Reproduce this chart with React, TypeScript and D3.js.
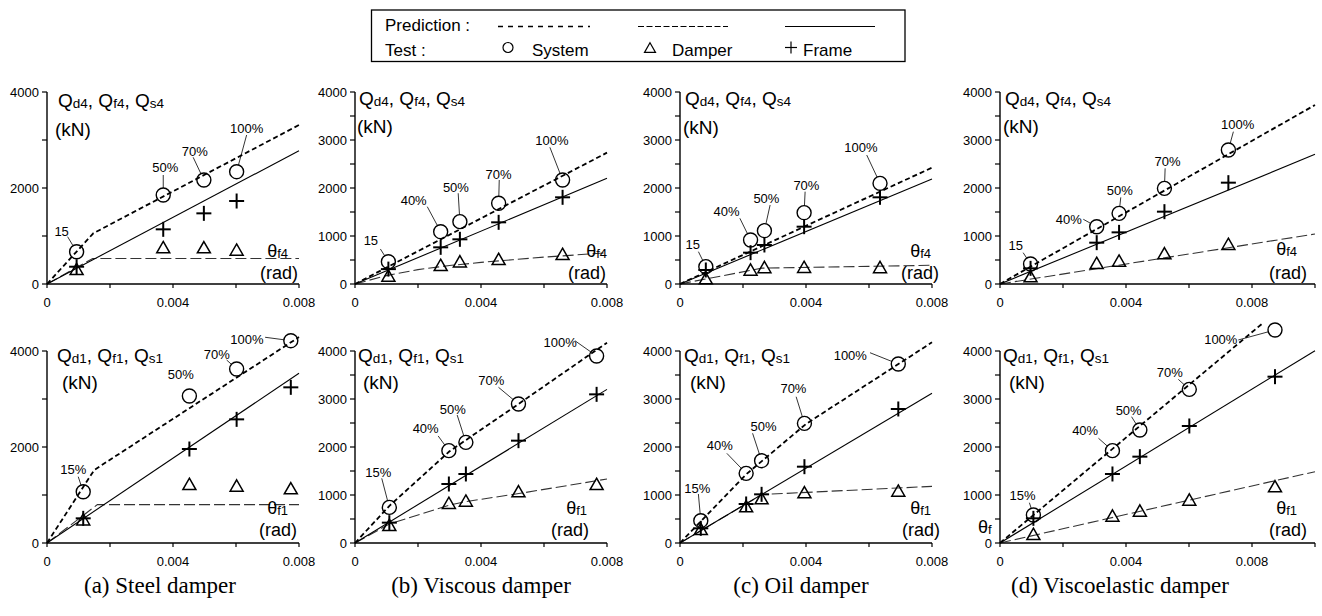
import React from "react";
import * as d3 from "d3";

// ---------------- data ----------------
// Tick values / labels
const xTicks8 = [0, 0.002, 0.004, 0.006, 0.008];
const xTicks10 = [0, 0.002, 0.004, 0.006, 0.008, 0.01];
const xLabelValues = [0, 0.004, 0.008];
const xLabelTexts = ["0", "0.004", "0.008"];
const yTicksCoarse = [0, 1000, 2000, 3000, 4000];
const yLabelsCoarse = [0, 2000, 4000];
const yTicksFine = [0, 500, 1000, 1500, 2000, 2500, 3000, 3500, 4000];
const yLabelsFine = [0, 1000, 2000, 3000, 4000];

// Level labels
const levelsTopA = ["15", "50%", "70%", "100%"];
const levelsTop = ["15", "40%", "50%", "70%", "100%"];
const levelsBotA = ["15%", "50%", "70%", "100%"];
const levelsBot = ["15%", "40%", "50%", "70%", "100%"];

// (a) Steel damper, 4th story
const a4Theta = [0.00094, 0.00369, 0.00498, 0.00602];
const a4System = [673, 1854, 2167, 2340];
const a4Damper = [290, 745, 744, 694];
const a4Frame = [360, 1139, 1472, 1729];
const a4PredSystem: [number, number][] = [[0, 0], [0.00147, 1056], [0.008, 3312]];
const a4PredDamper: [number, number][] = [[0, 0], [0.00145, 530], [0.008, 530]];
const a4PredFrame: [number, number][] = [[0, 0], [0.008, 2777]];

// (b) Viscous damper, 4th story
const b4Theta = [0.00106, 0.00272, 0.00333, 0.00456, 0.00659];
const b4System = [465, 1090, 1299, 1681, 2167];
const b4Damper = [153, 375, 451, 500, 604];
const b4Frame = [310, 764, 931, 1285, 1806];
const b4PredSystem: [number, number][] = [[0, 0], [0.008, 2736]];
const b4PredDamper: [number, number][] = [[0, 0], [0.001, 175], [0.002, 300], [0.003, 385], [0.004, 450], [0.005, 505], [0.006, 560], [0.007, 605], [0.008, 650]];
const b4PredFrame: [number, number][] = [[0, 0], [0.008, 2201]];

// (c) Oil damper, 4th story
const c4Theta = [0.00082, 0.00224, 0.00268, 0.00394, 0.00635];
const c4System = [361, 917, 1111, 1486, 2097];
const c4Damper = [97, 278, 330, 335, 330];
const c4Frame = [292, 653, 813, 1194, 1806];
const c4PredSystem: [number, number][] = [[0, 0], [0.008, 2424]];
const c4PredDamper: [number, number][] = [[0, 0], [0.0026, 330], [0.008, 390]];
const c4PredFrame: [number, number][] = [[0, 0], [0.008, 2188]];

// (d) Viscoelastic damper, 4th story
const d4Theta = [0.00097, 0.00307, 0.00378, 0.00522, 0.00725];
const d4System = [417, 1194, 1472, 1993, 2792];
const d4Damper = [139, 417, 465, 618, 813];
const d4Frame = [326, 861, 1076, 1507, 2111];
const d4PredSystem: [number, number][] = [[0, 0], [0.01, 3729]];
const d4PredDamper: [number, number][] = [[0, 0], [0.01, 1042]];
const d4PredFrame: [number, number][] = [[0, 0], [0.01, 2701]];

// (a) Steel damper, 1st story
const a1Theta = [0.00115, 0.00452, 0.00602, 0.00774];
const a1System = [1069, 3063, 3625, 4215];
const a1Damper = [470, 1208, 1174, 1118];
const a1Frame = [514, 1958, 2576, 3243];
const a1PredSystem: [number, number][] = [[0, 0], [0.0015, 1521], [0.008, 4290]];
const a1PredDamper: [number, number][] = [[0, 0], [0.0016, 800], [0.008, 800]];
const a1PredFrame: [number, number][] = [[0, 0], [0.008, 3535]];

// (b) Viscous damper, 1st story
const b1Theta = [0.00109, 0.00298, 0.00352, 0.00519, 0.00767];
const b1System = [743, 1924, 2097, 2896, 3896];
const b1Damper = [354, 813, 861, 1056, 1208];
const b1Frame = [424, 1229, 1438, 2132, 3097];
const b1PredSystem: [number, number][] = [[0, 0], [0.0011, 780], [0.003, 1910], [0.0052, 2900], [0.008, 4174]];
const b1PredDamper: [number, number][] = [[0, 0], [0.0011, 400], [0.003, 790], [0.0035, 860], [0.0052, 1030], [0.008, 1333]];
const b1PredFrame: [number, number][] = [[0, 0], [0.008, 3201]];

// (c) Oil damper, 1st story
const c1Theta = [0.00066, 0.0021, 0.00259, 0.00395, 0.00693];
const c1System = [465, 1451, 1715, 2493, 3729];
const c1Damper = [271, 743, 910, 1035, 1069];
const c1Frame = [306, 813, 1014, 1590, 2792];
const c1PredSystem: [number, number][] = [[0, 0], [0.0021, 1430], [0.004, 2480], [0.008, 4181]];
const c1PredDamper: [number, number][] = [[0, 0], [0.0026, 1010], [0.008, 1180]];
const c1PredFrame: [number, number][] = [[0, 0], [0.008, 3118]];

// (d) Viscoelastic damper, 1st story
const d1Theta = [0.00106, 0.00357, 0.00444, 0.00601, 0.00873];
const d1System = [583, 1924, 2354, 3201, 4438];
const d1Damper = [167, 549, 653, 882, 1160];
const d1Frame = [514, 1438, 1799, 2438, 3465];
const d1PredSystem: [number, number][] = [[0, 0], [0.00836, 4590]];
const d1PredDamper: [number, number][] = [[0, 0], [0.01, 1486]];
const d1PredFrame: [number, number][] = [[0, 0], [0.01, 4006]];

const captions = ["(a) Steel damper", "(b) Viscous damper", "(c) Oil damper", "(d) Viscoelastic damper"];

// ---------------- layout ----------------
const SANS = "'Liberation Sans', Arial, Helvetica, sans-serif";
const SERIF = "'Liberation Serif', 'Times New Roman', serif";
const colX0 = [47, 355, 680, 1000];
const colW = [252, 252, 252, 315];
const colMax = [0.008, 0.008, 0.008, 0.01];
const rowTop = [92, 351];
const rowBottom = [284, 543];
const captionX = [160, 481, 801, 1120];

type Ann = [number, number, number | null, number | null];

interface PanelCfg {
  col: number;
  row: number;
  story: string;
  theta: number[];
  system: number[];
  damper: number[];
  frame: number[];
  predSystem: [number, number][];
  predDamper: [number, number][];
  predFrame: [number, number][];
  levels: string[];
  ann: Ann[];
  q: [number, number, number, number];
  th: [number, number, number, number];
  coarse: boolean;
}

const panels: PanelCfg[] = [
  { col: 0, row: 0, story: "4", theta: a4Theta, system: a4System, damper: a4Damper, frame: a4Frame, predSystem: a4PredSystem, predDamper: a4PredDamper, predFrame: a4PredFrame, levels: levelsTopA,
    ann: [[-15, -20, -9, -15], [2, -28, 0, -20], [-9, -29, -10.7, -22.7], [10, -43, 10, -36.7]], q: [11, 15, 8, 44], th: [-11, -27, -1, -5], coarse: true },
  { col: 1, row: 0, story: "4", theta: b4Theta, system: b4System, damper: b4Damper, frame: b4Frame, predSystem: b4PredSystem, predDamper: b4PredDamper, predFrame: b4PredFrame, levels: levelsTop,
    ann: [[-17.5, -21, -8, -12.7], [-27, -31, -13.4, -25], [-4, -33.7, -1.7, -28.4], [0, -29.3, 0.6, -23.3], [-10.7, -40, -12.7, -32.7]], q: [4, 13, 2, 41], th: [0, -27, -1, -5], coarse: false },
  { col: 2, row: 0, story: "4", theta: c4Theta, system: c4System, damper: c4Damper, frame: c4Frame, predSystem: c4PredSystem, predDamper: c4PredDamper, predFrame: c4PredFrame, levels: levelsTop,
    ann: [[-13, -22.5, -7.4, -15], [-24, -28.3, -10.7, -21.7], [2, -31.9, 5.7, -25.7], [2.3, -26.9, 1, -21], [-19.2, -35.8, -13.3, -28.3]], q: [5, 13, 3, 42], th: [-1, -27, 7, -5], coarse: false },
  { col: 3, row: 0, story: "4", theta: d4Theta, system: d4System, damper: d4Damper, frame: d4Frame, predSystem: d4PredSystem, predDamper: d4PredDamper, predFrame: d4PredFrame, levels: levelsTop,
    ann: [[-14.7, -18.2, -7.4, -11.3], [-27.9, -7.2, -13.4, -7.4], [0.7, -23, 1.7, -16], [3.2, -27.1, 0.7, -20], [9.2, -25.8, 5, -18.3]], q: [5, 13, 3, 41], th: [-18, -29, -8, -5], coarse: false },
  { col: 0, row: 1, story: "1", theta: a1Theta, system: a1System, damper: a1Damper, frame: a1Frame, predSystem: a1PredSystem, predDamper: a1PredDamper, predFrame: a1PredFrame, levels: levelsBotA,
    ann: [[-10, -22.7, -5, -15], [-8.6, -21.8, null, null], [-19.9, -14.8, -10, -9], [-43.9, -1.5, -25.7, -3.4]], q: [10, 11, 15, 38], th: [-11, -29, -2, -7], coarse: true },
  { col: 1, row: 1, story: "1", theta: b1Theta, system: b1System, damper: b1Damper, frame: b1Frame, predSystem: b1PredSystem, predDamper: b1PredDamper, predFrame: b1PredFrame, levels: levelsBot,
    ann: [[-11, -34.8, -7.6, -29], [-23.2, -22, -10.7, -14.7], [-13, -33.1, -8.7, -27.3], [-27.1, -23.5, -20, -16.7], [-36.4, -13.8, -21.7, -15.3]], q: [3, 11, 8, 38], th: [-20, -29, -18, -7], coarse: false },
  { col: 2, row: 1, story: "1", theta: c1Theta, system: c1System, damper: c1Damper, frame: c1Frame, predSystem: c1PredSystem, predDamper: c1PredDamper, predFrame: c1PredFrame, levels: levelsBot,
    ann: [[-3.5, -32.4, -2.4, -26.7], [-26.3, -27.5, -19.3, -20], [2, -34, -9, -27.4], [-11, -34.5, -8.3, -26.6], [-48, -8.5, -28.3, -11.3]], q: [4, 11, 10, 38], th: [-1, -29, 8, -7], coarse: false },
  { col: 3, row: 1, story: "1", theta: d1Theta, system: d1System, damper: d1Damper, frame: d1Frame, predSystem: d1PredSystem, predDamper: d1PredDamper, predFrame: d1PredFrame, levels: levelsBot,
    ann: [[-10.8, -19.5, -4, -12.3], [-27.3, -20.4, -14, -12.4], [-11.2, -20, -8.3, -13.3], [-19.6, -17.1, -11, -10], [-54.2, 9.7, -36.7, 10]], q: [3, 11, 9, 38], th: [-18, -29, -8, -7], coarse: false },
];

const R = 7;

function Triangle({ x, y, s = 13, sw = 1.5 }: { x: number; y: number; s?: number; sw?: number }) {
  const h = s * 0.87;
  const p = `M${x},${y - h * 0.6}L${x + s / 2},${y + h * 0.4}L${x - s / 2},${y + h * 0.4}Z`;
  return <path d={p} fill="none" stroke="#000" strokeWidth={sw} />;
}

function Plus({ x, y, a = 7.5, sw = 2 }: { x: number; y: number; a?: number; sw?: number }) {
  return (
    <g stroke="#000" strokeWidth={sw}>
      <line x1={x - a} y1={y} x2={x + a} y2={y} />
      <line x1={x} y1={y - a} x2={x} y2={y + a} />
    </g>
  );
}

function Panel({ cfg }: { cfg: PanelCfg }) {
  const x0 = colX0[cfg.col];
  const x1 = x0 + colW[cfg.col];
  const yT = rowTop[cfg.row];
  const yB = rowBottom[cfg.row];
  const xs = d3.scaleLinear().domain([0, colMax[cfg.col]]).range([x0, x1]);
  const ys = d3.scaleLinear().domain([0, 4000]).range([yB, yT]);
  const line = d3.line<[number, number]>().x((d) => xs(d[0])).y((d) => ys(d[1]));
  const xt = cfg.col === 3 ? xTicks10 : xTicks8;
  const yt = cfg.coarse ? yTicksCoarse : yTicksFine;
  const yl = cfg.coarse ? yLabelsCoarse : yLabelsFine;
  const sub = cfg.story;
  return (
    <g>
      {/* prediction lines */}
      <path d={line(cfg.predDamper) || ""} fill="none" stroke="#333" strokeWidth={1.1} strokeDasharray="11,4" />
      <path d={line(cfg.predFrame) || ""} fill="none" stroke="#000" strokeWidth={1.1} />
      <path d={line(cfg.predSystem) || ""} fill="none" stroke="#000" strokeWidth={1.8} strokeDasharray="5,3" />
      {/* axes */}
      <line x1={x0} y1={yB} x2={x1} y2={yB} stroke="#000" strokeWidth={1.4} />
      <line x1={x0} y1={yB} x2={x0} y2={yT} stroke="#000" strokeWidth={1.4} />
      {xt.map((t) => (
        <line key={"xt" + t} x1={xs(t)} x2={xs(t)} y1={yB} y2={yB + 4} stroke="#000" strokeWidth={1.2} />
      ))}
      {yt.map((t) => (
        <line key={"yt" + t} x1={x0 - 5} x2={x0} y1={ys(t)} y2={ys(t)} stroke="#000" strokeWidth={1.2} />
      ))}
      {xLabelValues.map((t, i) => (
        <text key={"xl" + t} x={xs(t)} y={yB + 23} textAnchor="middle" fontSize={13} fontFamily={SANS}>
          {xLabelTexts[i]}
        </text>
      ))}
      {yl.map((t) => (
        <text key={"yl" + t} x={x0 - 8} y={ys(t)} dy="0.35em" textAnchor="end" fontSize={13} fontFamily={SANS}>
          {String(t)}
        </text>
      ))}
      {/* axis labels */}
      <text x={x0 + cfg.q[0]} y={yT + cfg.q[1]} fontSize={19} fontFamily={SANS}>
        Q<tspan fontSize={13.5} dy={1}>{"d" + sub}</tspan>
        <tspan dy={-1}>, Q</tspan>
        <tspan fontSize={13.5} dy={1}>{"f" + sub}</tspan>
        <tspan dy={-1}>, Q</tspan>
        <tspan fontSize={13.5} dy={1}>{"s" + sub}</tspan>
      </text>
      <text x={x0 + cfg.q[2]} y={yT + cfg.q[3]} fontSize={19} fontFamily={SANS}>
        (kN)
      </text>
      <text x={x1 + cfg.th[0]} y={yB + cfg.th[1]} fontSize={18} fontFamily={SANS} textAnchor="end">
        θ<tspan fontSize={13} dy={1}>{"f" + sub}</tspan>
      </text>
      <text x={x1 + cfg.th[2]} y={yB + cfg.th[3]} fontSize={18} fontFamily={SANS} textAnchor="end">
        (rad)
      </text>
      {/* test markers */}
      {cfg.theta.map((t, i) => (
        <Triangle key={"tr" + i} x={xs(t)} y={ys(cfg.damper[i])} />
      ))}
      {cfg.theta.map((t, i) => (
        <Plus key={"pl" + i} x={xs(t)} y={ys(cfg.frame[i])} />
      ))}
      {cfg.theta.map((t, i) => (
        <circle key={"ci" + i} cx={xs(t)} cy={ys(cfg.system[i])} r={R} fill="none" stroke="#000" strokeWidth={1.4} />
      ))}
      {/* level annotations */}
      {cfg.theta.map((t, i) => {
        const cx = xs(t);
        const cy = ys(cfg.system[i]);
        const a = cfg.ann[i];
        let leader = null;
        if (a[2] !== null && a[3] !== null) {
          const sx = cx + a[2];
          const sy = cy + a[3];
          const dx = cx - sx;
          const dy = cy - sy;
          const dist = Math.sqrt(dx * dx + dy * dy);
          if (dist > R + 1) {
            const ex = cx - (dx / dist) * R;
            const ey = cy - (dy / dist) * R;
            leader = <line x1={sx} y1={sy} x2={ex} y2={ey} stroke="#000" strokeWidth={0.8} />;
          }
        }
        return (
          <g key={"an" + i}>
            {leader}
            <text x={cx + a[0]} y={cy + a[1]} dy="0.35em" textAnchor="middle" fontSize={13} fontFamily={SANS}>
              {cfg.levels[i]}
            </text>
          </g>
        );
      })}
    </g>
  );
}

function Legend() {
  const yP = 26.5;
  const yT = 47.5;
  return (
    <g fontFamily={SANS} fontSize={17}>
      <rect x={371.5} y={10} width={533.5} height={51.5} fill="none" stroke="#000" strokeWidth={1.3} />
      <text x={385} y={31}>Prediction :</text>
      <text x={385} y={56}>Test :</text>
      <line x1={498} x2={590} y1={yP} y2={yP} stroke="#000" strokeWidth={1.6} strokeDasharray="5,5" />
      <line x1={638} x2={728} y1={yP} y2={yP} stroke="#000" strokeWidth={1} strokeDasharray="6,2.5" />
      <line x1={785} x2={875} y1={yP} y2={yP} stroke="#000" strokeWidth={1} />
      <circle cx={508} cy={yT} r={5} fill="none" stroke="#000" strokeWidth={1.2} />
      <text x={532} y={56}>System</text>
      <Triangle x={650} y={yT + 1} s={11} sw={1.2} />
      <text x={672} y={56}>Damper</text>
      <Plus x={791} y={yT} a={6} sw={1.2} />
      <text x={803} y={56}>Frame</text>
    </g>
  );
}

export default function App() {
  return (
    <svg
      width={1322}
      height={616}
      viewBox="0 0 1322 616"
      style={{ position: "absolute", left: 0, top: 0, display: "block", background: "#fff" }}
    >
      <rect x={0} y={0} width={1322} height={616} fill="#fff" />
      <Legend />
      {panels.map((p, i) => (
        <Panel key={i} cfg={p} />
      ))}
      {captions.map((c, i) => (
        <text key={c} x={captionX[i]} y={593} textAnchor="middle" fontSize={23} fontFamily={SERIF}>
          {c}
        </text>
      ))}
      <text x={978} y={533} fontSize={18} fontFamily={SANS}>
        θ<tspan fontSize={13} dy={1}>f</tspan>
      </text>
    </svg>
  );
}
